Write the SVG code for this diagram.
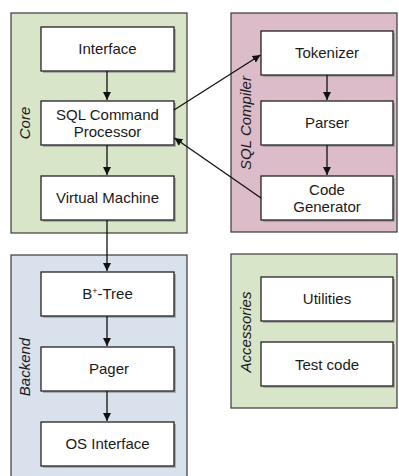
<svg xmlns="http://www.w3.org/2000/svg" width="399" height="476" viewBox="0 0 399 476">
<style>
.grp{stroke:#3a3a3a;stroke-width:1.2}
.core{fill:#d9e5c8}
.comp{fill:#dcbcc9}
.back{fill:#d9e1ec}
.node{fill:#ffffff;stroke:#222;stroke-width:1.3}
.shadow{fill:#8a8a8a;opacity:0.6}
.t{font-family:"Liberation Sans",Arial,sans-serif;font-size:15px;fill:#1a1a1a;text-anchor:middle}
.lab{font-family:"Liberation Sans",Arial,sans-serif;font-size:15px;font-style:italic;fill:#1a1a1a;text-anchor:middle}
.edge{stroke:#111;stroke-width:1.3;fill:none;marker-end:url(#ah)}
</style>
<defs>
<marker id="ah" viewBox="0 0 10 10" refX="10" refY="5" markerWidth="8" markerHeight="8" markerUnits="userSpaceOnUse" orient="auto">
<path d="M0,0 L10,5 L0,10 z" fill="#111"/>
</marker>
</defs>
<rect width="399" height="476" fill="#ffffff"/>

<g id="core">
<rect class="grp core" x="11" y="13" width="176" height="220"/>
<text class="lab" transform="translate(30,123) rotate(-90)">Core</text>
</g>
<g id="sqlcompiler">
<rect class="grp comp" x="231" y="13" width="166" height="219"/>
<text class="lab" transform="translate(251,123) rotate(-90)">SQL Compiler</text>
</g>
<g id="backend">
<rect class="grp back" x="11" y="255" width="176" height="230"/>
<text class="lab" transform="translate(30,367) rotate(-90)">Backend</text>
</g>
<g id="accessories">
<rect class="grp core" x="231" y="254" width="166" height="154"/>
<text class="lab" transform="translate(251,332) rotate(-90)">Accessories</text>
</g>

<g id="interface">
<rect class="shadow" x="43" y="29" width="133" height="44"/>
<rect class="node" x="41" y="27" width="133" height="44"/>
<text class="t" x="107.5" y="54">Interface</text>
</g>
<g id="sqlcp">
<rect class="shadow" x="43" y="103" width="133" height="44"/>
<rect class="node" x="41" y="101" width="133" height="44"/>
<text class="t" x="107.5" y="120">SQL Command</text>
<text class="t" x="107.5" y="137">Processor</text>
</g>
<g id="vm">
<rect class="shadow" x="43" y="178" width="133" height="44"/>
<rect class="node" x="41" y="176" width="133" height="44"/>
<text class="t" x="107.5" y="203">Virtual Machine</text>
</g>
<g id="tokenizer">
<rect class="shadow" x="263" y="33" width="132" height="44"/>
<rect class="node" x="261" y="31" width="132" height="44"/>
<text class="t" x="327" y="58">Tokenizer</text>
</g>
<g id="parser">
<rect class="shadow" x="263" y="103" width="132" height="44"/>
<rect class="node" x="261" y="101" width="132" height="44"/>
<text class="t" x="327" y="128">Parser</text>
</g>
<g id="codegen">
<rect class="shadow" x="263" y="178" width="132" height="44"/>
<rect class="node" x="261" y="176" width="132" height="44"/>
<text class="t" x="327" y="195">Code</text>
<text class="t" x="327" y="212">Generator</text>
</g>
<g id="btree">
<rect class="shadow" x="43" y="274" width="133" height="44"/>
<rect class="node" x="41" y="272" width="133" height="44"/>
<text class="t" x="107.5" y="299">B<tspan font-size="9" dy="-5">+</tspan><tspan dy="5">-Tree</tspan></text>
</g>
<g id="pager">
<rect class="shadow" x="43" y="349" width="133" height="44"/>
<rect class="node" x="41" y="347" width="133" height="44"/>
<text class="t" x="109" y="374">Pager</text>
</g>
<g id="osinterface">
<rect class="shadow" x="43" y="424" width="133" height="44"/>
<rect class="node" x="41" y="422" width="133" height="44"/>
<text class="t" x="107.5" y="449">OS Interface</text>
</g>
<g id="utilities">
<rect class="shadow" x="263" y="279" width="132" height="44"/>
<rect class="node" x="261" y="277" width="132" height="44"/>
<text class="t" x="327" y="304">Utilities</text>
</g>
<g id="testcode">
<rect class="shadow" x="263" y="344" width="132" height="44"/>
<rect class="node" x="261" y="342" width="132" height="44"/>
<text class="t" x="327" y="370">Test code</text>
</g>

<g id="connectors">
<line class="edge" x1="107" y1="71" x2="107" y2="100"/>
<line class="edge" x1="107" y1="145" x2="107" y2="175"/>
<line class="edge" x1="107" y1="220" x2="107" y2="271"/>
<line class="edge" x1="107" y1="316" x2="107" y2="346"/>
<line class="edge" x1="107" y1="391" x2="107" y2="421"/>
<line class="edge" x1="327" y1="75" x2="327" y2="100"/>
<line class="edge" x1="327" y1="145" x2="327" y2="175"/>
<line class="edge" x1="174" y1="110" x2="260.5" y2="55"/>
<line class="edge" x1="261" y1="198" x2="174.5" y2="138"/>
</g>
</svg>
